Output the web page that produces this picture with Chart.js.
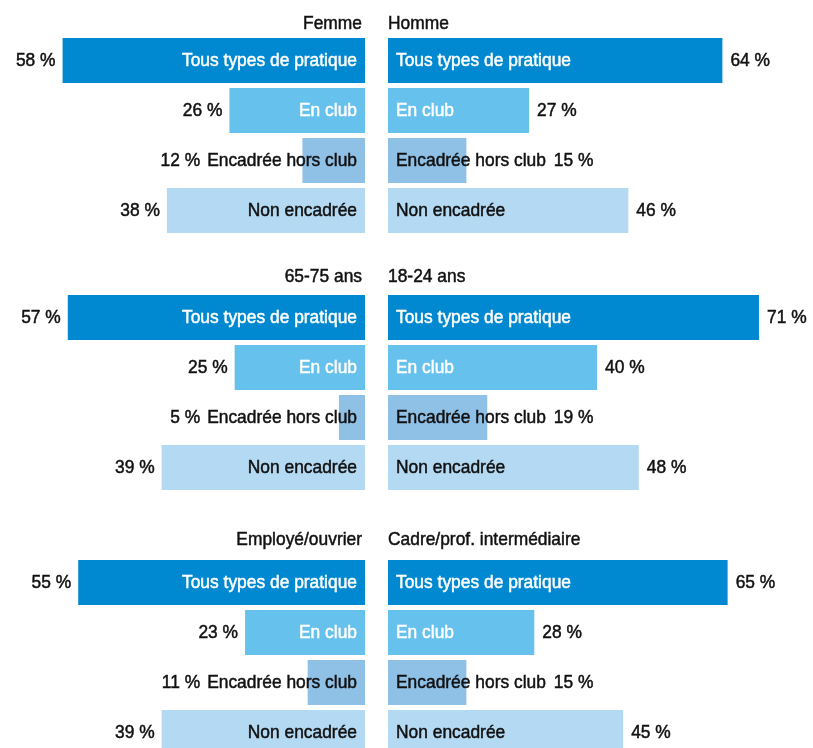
<!DOCTYPE html>
<html>
<head>
<meta charset="utf-8">
<script src="https://cdn.jsdelivr.net/npm/chart.js@4.4.1/dist/chart.umd.min.js"></script>
<style>
  html, body { margin: 0; padding: 0; background: #fff; overflow: hidden; }
  body { width: 813px; height: 748px; position: relative; }
  canvas { position: absolute; }
</style>
</head>
<body>
<canvas id="c1l"></canvas>
<canvas id="c1r"></canvas>
<canvas id="c2l"></canvas>
<canvas id="c2r"></canvas>
<canvas id="c3l"></canvas>
<canvas id="c3r"></canvas>
<script>
// categories and values (%)
const practices = ['Tous types de pratique', 'En club', 'Encadrée hors club', 'Non encadrée'];
const leftGroups = ['Femme', '65-75 ans', 'Employé/ouvrier'];
const rightGroups = ['Homme', '18-24 ans', 'Cadre/prof. intermédiaire'];
const femme = [58, 26, 12, 38];
const homme = [64, 27, 15, 46];
const ans6575 = [57, 25, 5, 39];
const ans1824 = [71, 40, 19, 48];
const employe = [55, 23, 11, 39];
const cadre = [65, 28, 15, 45];

const barColors = ['#0089d0', '#66c1ec', '#8fc0e6', '#b4d9f2'];
const nameColors = ['#ffffff', '#ffffff', '#111111', '#111111'];
const INK = '#111111';
const FONT = '19px "Liberation Sans", Arial, sans-serif';

// the original uses a condensed face; squeeze Liberation Sans horizontally
let squeeze = 1;
function calibrate(c) {
    c.save();
    c.font = FONT;
    squeeze = 175 / c.measureText('Tous types de pratique').width;
    c.restore();
}

function drawText(c, text, x, y, align) {
    c.save();
    c.translate(x, y);
    c.scale(squeeze, 1);
    c.textAlign = align;
    c.strokeStyle = c.fillStyle;
    c.lineWidth = 0.5;
    c.fillText(text, 0, 0);
    c.strokeText(text, 0, 0);
    c.restore();
    return c.measureText(text).width * squeeze;
}

const labelPlugin = {
    id: 'barLabels',
    afterDatasetsDraw(chart, args, opts) {
        const c = chart.ctx;
        const area = chart.chartArea;
        const meta = chart.getDatasetMeta(0);
        const values = chart.data.datasets[0].data;
        const left = opts.side === 'left';
        c.save();
        c.font = FONT;
        calibrate(c);
        c.textBaseline = 'middle';
        c.fillStyle = INK;
        drawText(c, opts.title, left ? area.right - 3 : area.left, opts.titleY, left ? 'right' : 'left');

        meta.data.forEach((bar, i) => {
            const name = practices[i];
            c.fillStyle = nameColors[i];
            if (left) {
                const w = drawText(c, name, bar.base - 8, bar.y, 'right');
                const x = Math.min(bar.x, bar.base - 8 - w) - 7;
                c.fillStyle = INK;
                drawText(c, values[i] + ' %', x, bar.y, 'right');
            } else {
                const w = drawText(c, name, bar.base + 8, bar.y, 'left');
                const x = Math.max(bar.x, bar.base + 8 + w) + 8;
                c.fillStyle = INK;
                drawText(c, values[i] + ' %', x, bar.y, 'left');
            }
        });
        c.restore();
    }
};

function makeChart(id, side, title, values, box) {
    const canvas = document.getElementById(id);
    const isLeft = side === 'left';
    canvas.width = isLeft ? 365 : 425;
    canvas.height = box.height;
    canvas.style.left = (isLeft ? 0 : 388) + 'px';
    canvas.style.top = box.top + 'px';
    return new Chart(canvas.getContext('2d'), {
        type: 'bar',
        data: {
            labels: practices,
            datasets: [{
                data: values,
                backgroundColor: barColors,
                borderWidth: 0,
                barPercentage: 0.9,
                categoryPercentage: 1
            }]
        },
        options: {
            indexAxis: 'y',
            responsive: false,
            animation: false,
            layout: {
                padding: {
                    top: box.padTop,
                    bottom: box.padBottom,
                    left: 0,
                    right: isLeft ? 0 : 7
                }
            },
            scales: {
                x: { display: false, min: 0, max: isLeft ? 70 : 80, reverse: isLeft },
                y: { display: false }
            },
            plugins: {
                legend: { display: false },
                tooltip: { enabled: false },
                barLabels: { side: side, title: title, titleY: box.titleY }
            }
        },
        plugins: [labelPlugin]
    });
}

const boxes = [
    { top: 0, height: 240, padTop: 35.5, padBottom: 4.5, titleY: 24 },
    { top: 250, height: 250, padTop: 42.5, padBottom: 7.5, titleY: 27 },
    { top: 510, height: 250, padTop: 47.5, padBottom: 2.5, titleY: 30 }
];

makeChart('c1l', 'left', leftGroups[0], femme, boxes[0]);
makeChart('c1r', 'right', rightGroups[0], homme, boxes[0]);
makeChart('c2l', 'left', leftGroups[1], ans6575, boxes[1]);
makeChart('c2r', 'right', rightGroups[1], ans1824, boxes[1]);
makeChart('c3l', 'left', leftGroups[2], employe, boxes[2]);
makeChart('c3r', 'right', rightGroups[2], cadre, boxes[2]);
</script>
</body>
</html>
